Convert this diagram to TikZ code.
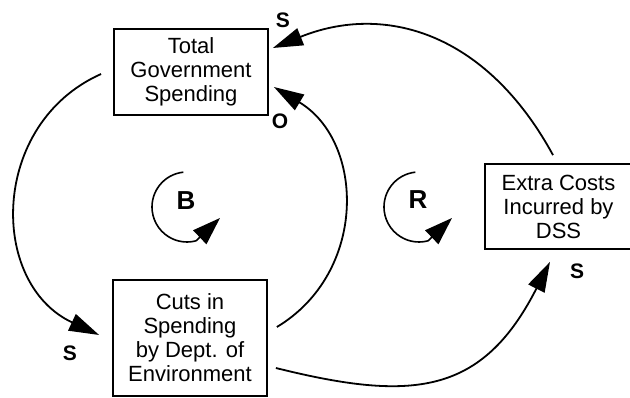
\documentclass[tikz,border=0pt]{standalone}
\usepackage{fontspec}
\setmainfont{Liberation Sans}
\usetikzlibrary{arrows.meta}

\begin{document}
\begin{tikzpicture}[x=1pt,y=1pt,
  varbox/.style={draw, line width=1.8pt, inner sep=0pt, align=center,
    font=\fontsize{22}{24}\selectfont},
  link/.style={line width=1.8pt, -{Triangle[length=30pt,width=18pt]}},
  looplink/.style={line width=1.6pt, -{Triangle[length=28pt,width=19pt]}},
  polarity/.style={font=\fontsize{21}{21}\selectfont\bfseries, inner sep=0pt},
  looplabel/.style={font=\fontsize{26}{26}\selectfont\bfseries, inner sep=0pt}]

\useasboundingbox (0,0) rectangle (630,398);
\clip (0,0) rectangle (630,398);

% variables
\node[varbox, minimum width=154pt, minimum height=86pt] (tgs) at (191,326)
  {Total\\Government\\Spending};
\node[varbox, minimum width=154pt, minimum height=116pt] (cuts) at (190,60)
  {Cuts in\\Spending\\by Dept. of\\Environment};
\node[varbox, minimum width=147pt, minimum height=85pt] (dss) at (558.5,191.5)
  {Extra Costs\\Incurred by\\DSS};

% polarity signs
\node[polarity] (p1) at (283,378) {S};
\node[polarity] (p2) at (280,277) {O};
\node[polarity] (p3) at (70,45) {S};
\node[polarity] (p4) at (577,127) {S};

% causal links
\draw[link] ([xshift=-12pt,yshift=-2pt]tgs.west)
  .. controls +(204:122) and +(155:122) .. ([xshift=-13pt,yshift=3pt]cuts.west);
\draw[link] ([xshift=9pt,yshift=11pt]cuts.east)
  .. controls +(31:106) and +(-31:106) .. ([xshift=5pt,yshift=-15pt]tgs.east);
\draw[link] ([xshift=-5.5pt,yshift=8pt]dss.north)
  .. controls +(118.6:140) and +(22:120) .. ([xshift=4pt,yshift=24pt]tgs.east);
\draw[link] ([xshift=8pt,yshift=-30pt]cuts.east)
  .. controls +(-14:140) and +(243:150) .. ([xshift=-8.5pt,yshift=-12pt]dss.south);

% loop identifiers
\node[looplabel] (B) at (186,197) {B};
\node[looplabel] (R) at (418,198) {R};
\draw[looplink] ([xshift=1pt,yshift=-6pt]B.center) ++(96:35)
  arc[start angle=96, end angle=285, radius=35] -- ([xshift=34pt,yshift=-17pt]B.center);
\draw[looplink] ([xshift=1pt,yshift=-7pt]R.center) ++(96:35)
  arc[start angle=96, end angle=285, radius=35] -- ([xshift=34pt,yshift=-18pt]R.center);
\end{tikzpicture}
\end{document}
